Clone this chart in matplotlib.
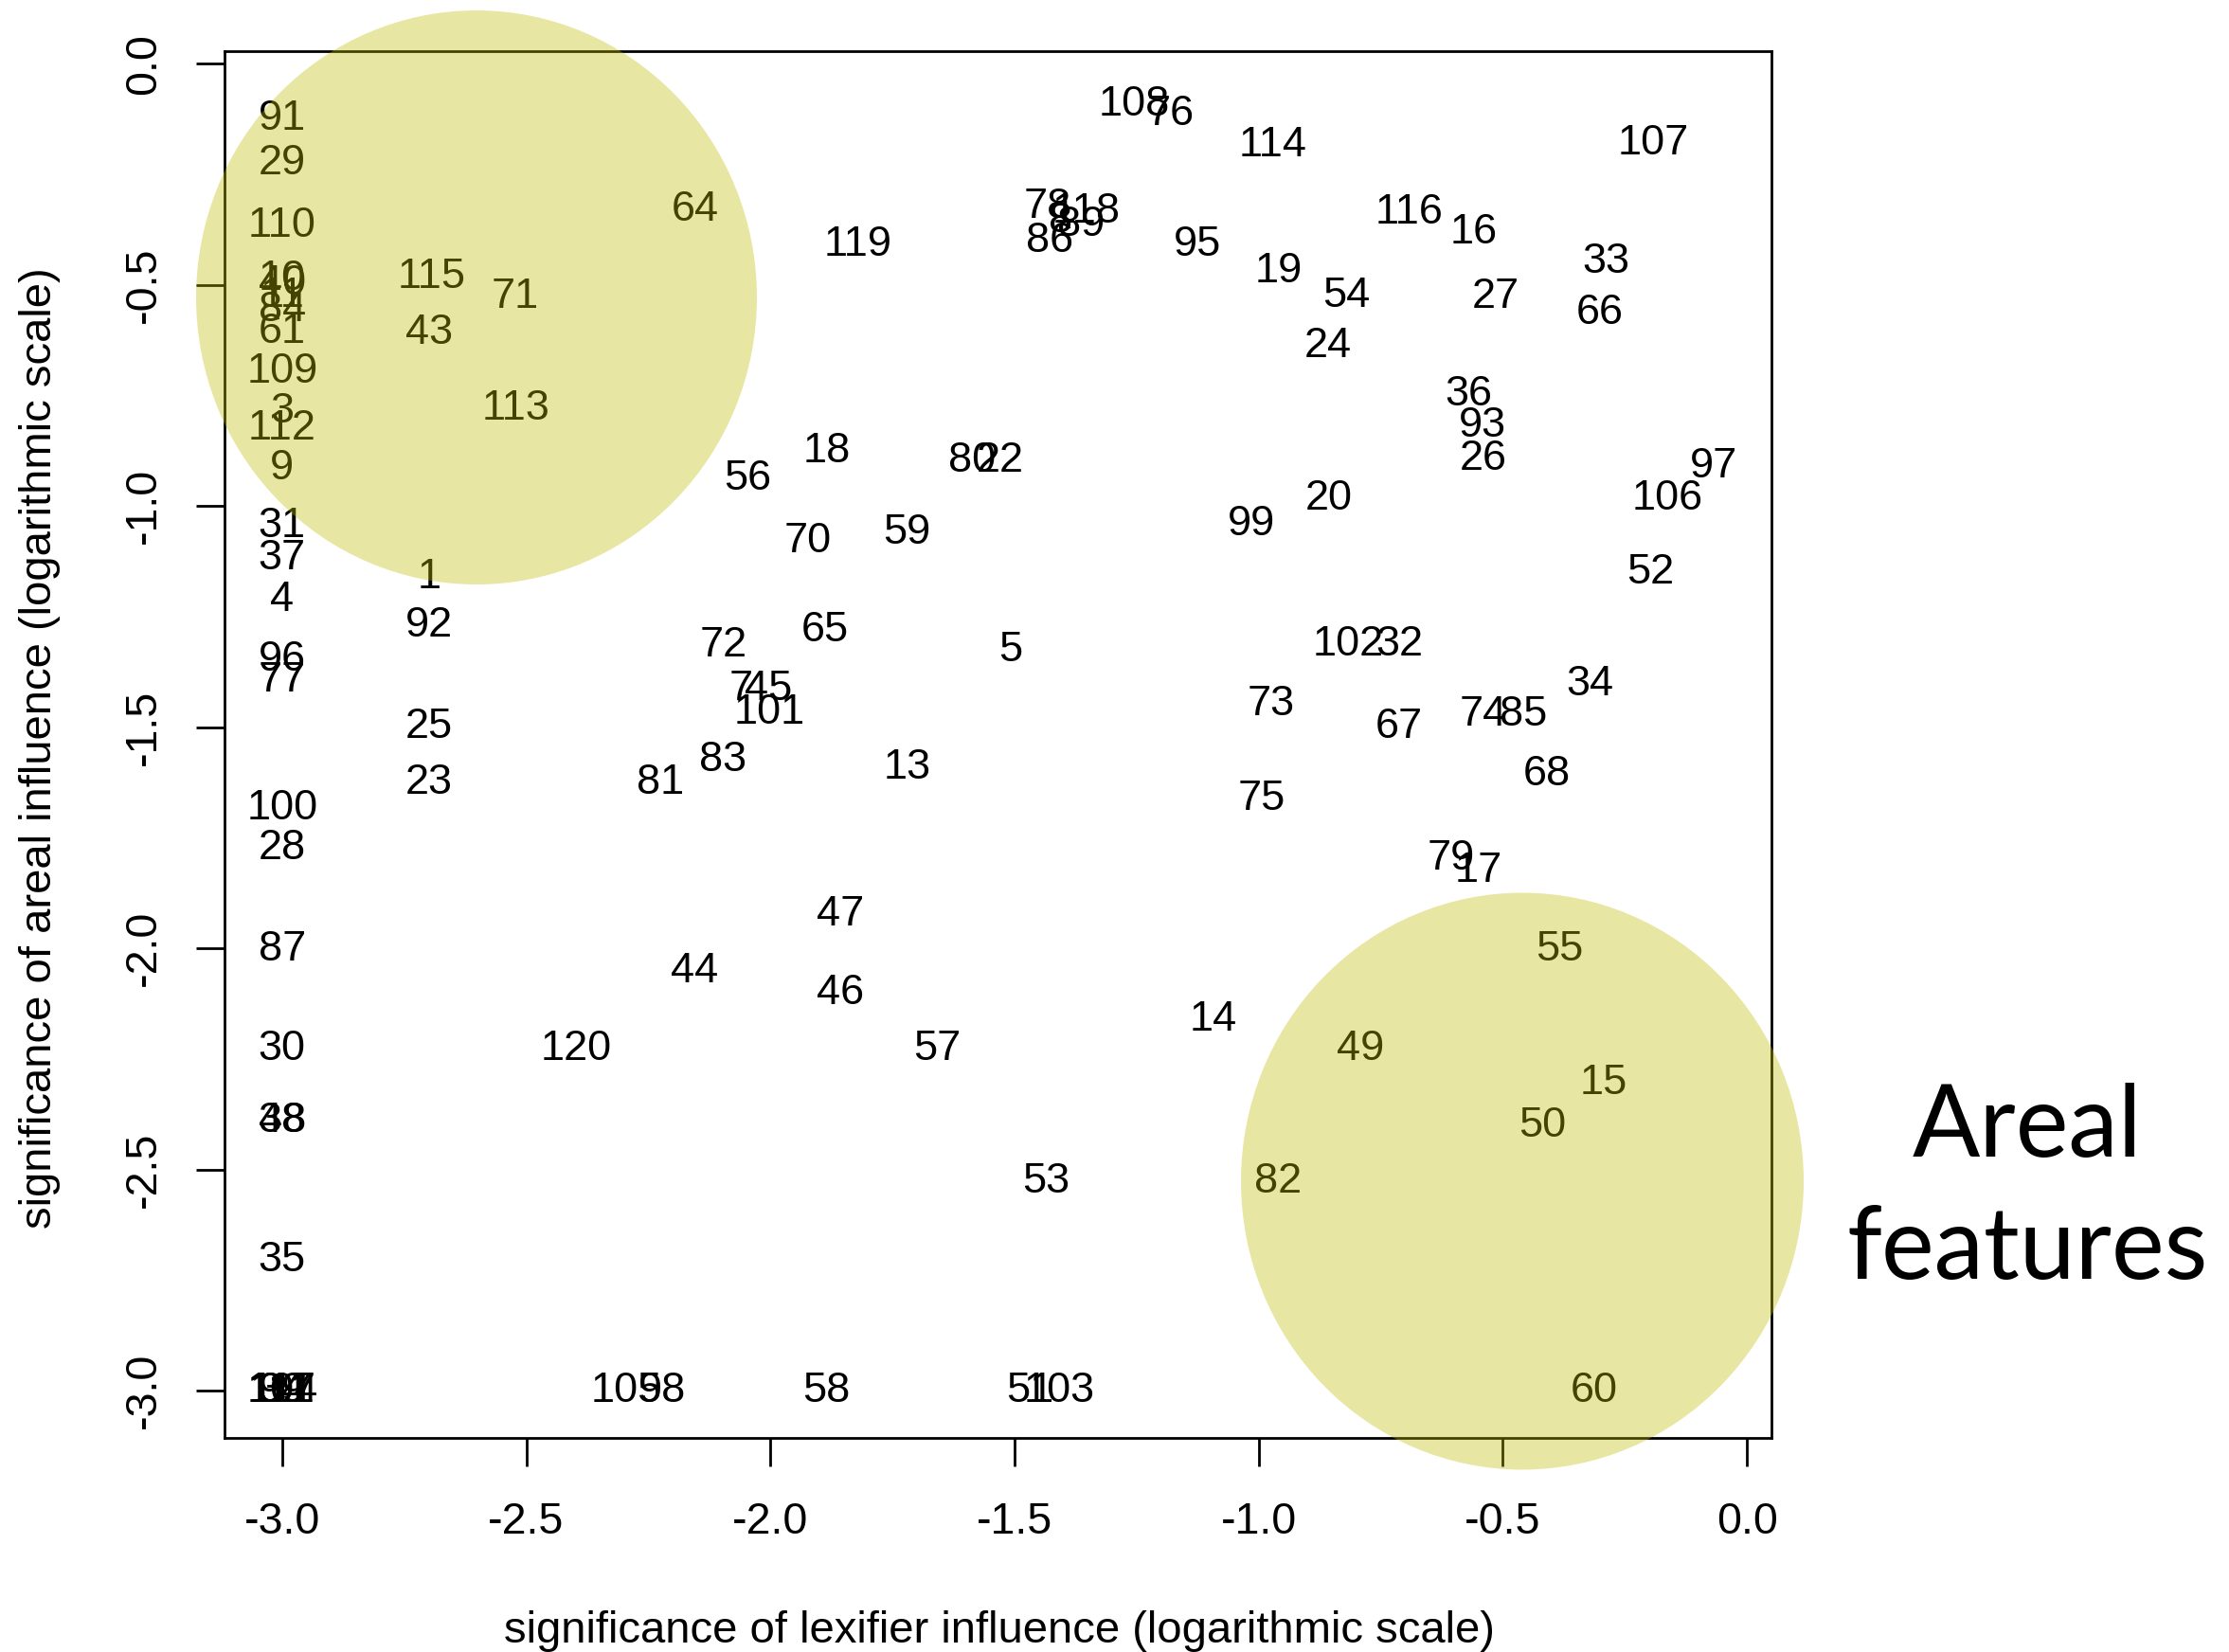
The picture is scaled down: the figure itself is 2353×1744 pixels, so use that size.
import matplotlib
matplotlib.use("Agg")
import matplotlib.pyplot as plt
from matplotlib.patches import Ellipse

plt.rcParams['font.family'] = ['Liberation Sans', 'DejaVu Sans']
plt.rcParams['axes.unicode_minus'] = False

# feature ids and their (log) significance values
feature_ids = [
    "91", "29", "110", "10", "40", "11", "84", "61", "109", "3", "112", "9",
    "31", "37", "4", "96", "77", "100", "28", "87", "30", "48", "38", "35",
    "104", "111", "117", "94", "39",
    "115", "43", "1", "92", "25", "23", "71", "113", "64", "120",
    "105", "98", "58", "51", "103", "60",
    "108", "76", "114", "107", "78", "118", "8", "89", "86", "119", "95",
    "116", "16", "33", "19", "54", "27", "66", "24", "36", "93", "26",
    "18", "80", "22", "56", "97", "106", "20", "99", "70", "59", "52",
    "72", "65", "5", "102", "32", "34", "74", "85", "67", "73",
    "7", "45", "101", "83", "81", "13", "75", "68", "79", "17",
    "47", "44", "46", "57", "14", "55", "49", "15", "50", "82", "53",
]
lexifier_sig = [
    -3.0, -3.0, -3.0, -3.0, -3.0, -3.0, -3.0, -3.0, -3.0, -3.0, -3.0, -3.0,
    -3.0, -3.0, -3.0, -3.0, -3.0, -3.0, -3.0, -3.0, -3.0, -3.0, -3.0, -3.0,
    -3.0, -3.0, -3.0, -3.0, -3.0,
    -2.693, -2.699, -2.699, -2.699, -2.699, -2.699, -2.522, -2.522, -2.155, -2.397,
    -2.294, -2.222, -1.885, -1.468, -1.409, -0.314,
    -1.256, -1.181, -0.971, -0.192, -1.432, -1.353, -1.405, -1.364, -1.429, -1.821, -1.126,
    -0.692, -0.559, -0.288, -0.960, -0.821, -0.515, -0.302, -0.859, -0.571, -0.541, -0.541,
    -1.885, -1.588, -1.530, -2.047, -0.069, -0.163, -0.856, -1.015, -1.923, -1.721, -0.198,
    -2.097, -1.888, -1.509, -0.817, -0.712, -0.322, -0.541, -0.459, -0.712, -0.974,
    -2.060, -2.005, -2.002, -2.097, -2.225, -1.719, -0.995, -0.410, -0.606, -0.550,
    -1.856, -2.155, -1.856, -1.658, -1.094, -0.384, -0.791, -0.294, -0.419, -0.960, -1.435,
]
areal_sig = [
    -0.125, -0.225, -0.367, -0.488, -0.497, -0.525, -0.557, -0.606, -0.696, -0.786, -0.825, -0.916,
    -1.045, -1.119, -1.213, -1.348, -1.394, -1.684, -1.775, -2.004, -2.227, -2.390, -2.390, -2.705,
    -3.0, -3.0, -3.0, -3.0, -3.0,
    -0.483, -0.609, -1.161, -1.271, -1.500, -1.626, -0.528, -0.780, -0.331, -2.227,
    -3.0, -3.0, -3.0, -3.0, -3.0, -3.0,
    -0.092, -0.115, -0.186, -0.180, -0.325, -0.335, -0.357, -0.364, -0.402, -0.409, -0.409,
    -0.338, -0.383, -0.448, -0.470, -0.525, -0.528, -0.564, -0.638, -0.748, -0.819, -0.893,
    -0.877, -0.899, -0.899, -0.938, -0.912, -0.983, -0.983, -1.042, -1.081, -1.061, -1.151,
    -1.316, -1.281, -1.326, -1.313, -1.313, -1.403, -1.471, -1.471, -1.500, -1.448,
    -1.415, -1.415, -1.467, -1.574, -1.626, -1.591, -1.662, -1.607, -1.797, -1.826,
    -1.923, -2.052, -2.101, -2.227, -2.162, -2.004, -2.227, -2.304, -2.401, -2.527, -2.527,
]

x_ticks = [-3.0, -2.5, -2.0, -1.5, -1.0, -0.5, 0.0]
y_ticks = [-3.0, -2.5, -2.0, -1.5, -1.0, -0.5, 0.0]

W, H = 2353, 1744
fig = plt.figure(figsize=(W / 100, H / 100), dpi=100)
ax = fig.add_axes([237 / W, 1 - 1518 / H, (1870 - 237) / W, (1518 - 54) / H])

for fid, xv, yv in zip(feature_ids, lexifier_sig, areal_sig):
    ax.text(xv, yv, fid, ha='center', va='center', fontsize=32.5)

ax.set_xlim(-3.118, 0.050)
ax.set_ylim(-3.107, 0.028)
ax.set_xticks(x_ticks)
ax.set_xticklabels([f"{t:.1f}" for t in x_ticks])
ax.set_yticks(y_ticks)
ax.set_yticklabels([f"{t:.1f}" for t in y_ticks], rotation=90, va='center')
ax.tick_params(direction='out', length=21.5, width=2, labelsize=33.5)
ax.tick_params(axis='x', pad=27)
ax.tick_params(axis='y', pad=24)
for s in ax.spines.values():
    s.set_linewidth(2)

fig.text(1055 / W, 1 - 1722 / H, "significance of lexifier influence (logarithmic scale)",
         ha='center', va='center', fontsize=34)
fig.text(42 / W, 1 - 790 / H, "significance of areal influence (logarithmic scale)",
         ha='center', va='center', rotation=90, fontsize=34)

fig.text(2140 / W, 1 - 1191 / H, "Areal", ha='center', va='center',
         fontsize=76, family='Lato')
fig.text(2140 / W, 1 - 1320 / H, "features", ha='center', va='center',
         fontsize=76, family='Lato')

# translucent highlight circles drawn in pixel space over everything
ov = fig.add_axes([0, 0, 1, 1], zorder=10)
ov.set_xlim(0, W)
ov.set_ylim(H, 0)
ov.axis('off')
ov.patch.set_alpha(0)
ov.add_patch(Ellipse((503, 314), 592, 606, facecolor=(192 / 255, 186 / 255, 0), alpha=0.36, lw=0))
ov.add_patch(Ellipse((1607, 1247), 594, 609, facecolor=(192 / 255, 186 / 255, 0), alpha=0.36, lw=0))

fig.savefig("out.png", dpi=100)
